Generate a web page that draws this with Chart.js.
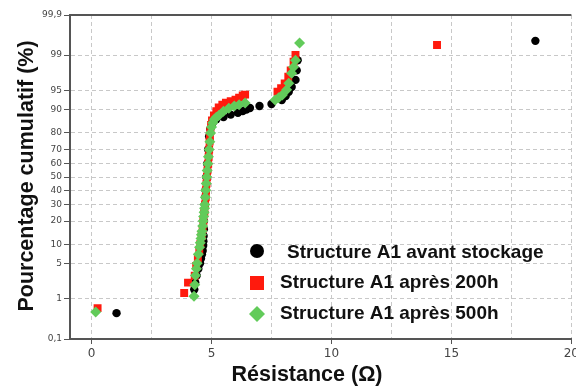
<!DOCTYPE html>
<html>
<head>
<meta charset="utf-8">
<script src="https://cdn.jsdelivr.net/npm/chart.js@4.4.1/dist/chart.umd.min.js"></script>
<style>
  html, body { margin: 0; padding: 0; background: #fff; overflow: hidden; }
  #wrap { width: 576px; height: 388px; overflow: hidden; }
  #box { width: 582px; height: 388px; }
</style>
</head>
<body>
<div id="wrap"><div id="box"><canvas id="chart"></canvas></div></div>
<script>
// Series labels
const seriesLabels = ['Structure A1 avant stockage', 'Structure A1 après 200h', 'Structure A1 après 500h'];

// Structure A1 avant stockage : résistance (ohm) / pourcentage cumulatif (%)
const avantR = [1.04, 4.28, 4.32, 4.38, 4.45, 4.52, 4.56, 4.6, 4.63, 4.65, 4.66, 4.67, 4.68, 4.68, 4.7, 4.72, 4.74, 4.75, 4.78, 4.82,
  4.86, 4.9, 4.95, 5.05, 5.2, 5.5, 5.8, 6.1, 6.3, 6.45, 6.6, 7.0, 7.5, 7.93, 8.09, 8.22, 8.34, 8.5, 8.55, 8.59, 18.5];
const avantP = [0.47, 1.6, 2.2, 3, 4, 5, 6, 7, 8, 9.5, 11, 13, 16, 20, 25, 30, 35, 40, 50, 60,
  70, 78, 82, 85, 86.5, 87.4, 88.3, 89, 89.6, 90.1, 90.6, 91.2, 91.8, 92.9, 93.9, 94.8, 95.7, 96.8, 97.9, 98.7, 99.53];

// Structure A1 après 200h
const h200R = [0.25, 3.86, 4.02, 4.3, 4.36, 4.43, 4.49, 4.53, 4.59, 4.63, 4.66, 4.7, 4.73, 4.76, 4.77, 4.79, 4.81, 4.83, 4.86, 4.88,
  4.9, 4.92, 4.93, 4.95, 4.98, 5.02, 5.1, 5.2, 5.3, 5.45, 5.6, 5.8, 6.0, 6.15, 6.3, 6.4,
  7.75, 7.9, 8.05, 8.2, 8.3, 8.42, 8.5, 14.4];
const h200P = [0.62, 1.35, 2.2, 3, 4.5, 6, 8, 10, 13, 16, 20, 25, 30, 35, 40, 45, 50, 55, 60, 65,
  70, 75, 78, 81, 84, 86, 88, 89.5, 90.8, 91.6, 92.2, 92.6, 93, 93.5, 94, 94.2,
  94.8, 95.5, 96.3, 97.2, 97.9, 98.6, 99.0, 99.41];

// Structure A1 après 500h
const h500R = [0.17, 4.27, 4.3, 4.33, 4.37, 4.4, 4.45, 4.5, 4.53, 4.56, 4.58, 4.6, 4.63, 4.65, 4.67, 4.69, 4.71, 4.72, 4.74, 4.76,
  4.78, 4.8, 4.82, 4.85, 4.87, 4.9, 4.93, 4.96, 5.0, 5.05, 5.12, 5.2, 5.3, 5.5, 5.72, 5.95, 6.15, 6.4,
  7.65, 7.8, 7.95, 8.13, 8.22, 8.34, 8.42, 8.5, 8.67];
const h500P = [0.5, 1.15, 2, 3, 4, 5, 7, 9, 10.5, 12, 13.5, 15, 17.5, 20, 22.5, 25, 27.5, 30, 35, 40,
  45, 50, 55, 60, 65, 70, 75, 80, 83, 85, 86.5, 87.3, 88, 89.5, 90.5, 91.2, 91.6, 92.1,
  92.9, 93.5, 94.1, 95.2, 96.3, 97.6, 98.2, 98.7, 99.47];

// Axis ticks
const yTickPct = [0.1, 1, 5, 10, 20, 30, 40, 50, 60, 70, 80, 90, 95, 99, 99.9];
const yTickLabels = ['0,1', '1', '5', '10', '20', '30', '40', '50', '60', '70', '80', '90', '95', '99', '99,9'];
const xGridVals = [0, 2.5, 5, 7.5, 10, 12.5, 15, 17.5, 20];

const colors = ['#000000', '#ff1a0d', '#62cb5a'];

// Inverse normal CDF (Acklam), p in percent -> normal quantile
function probit(pct) {
  const p = pct / 100;
  const a = [-3.969683028665376e+01, 2.209460984245205e+02, -2.759285104469687e+02, 1.383577518672690e+02, -3.066479806614716e+01, 2.506628277459239e+00];
  const b = [-5.447609879822406e+01, 1.615858368580409e+02, -1.556989798598866e+02, 6.680131188771972e+01, -1.328068155288572e+01];
  const c = [-7.784894002430293e-03, -3.223964580411365e-01, -2.400758277161838e+00, -2.549732539343734e+00, 4.374664141464968e+00, 2.938163982698783e+00];
  const d = [7.784695709041462e-03, 3.224671290700398e-01, 2.445134137142996e+00, 3.754408661907416e+00];
  const pl = 0.02425;
  let q, r;
  if (p < pl) {
    q = Math.sqrt(-2 * Math.log(p));
    return (((((c[0] * q + c[1]) * q + c[2]) * q + c[3]) * q + c[4]) * q + c[5]) / ((((d[0] * q + d[1]) * q + d[2]) * q + d[3]) * q + 1);
  }
  if (p > 1 - pl) {
    q = Math.sqrt(-2 * Math.log(1 - p));
    return -(((((c[0] * q + c[1]) * q + c[2]) * q + c[3]) * q + c[4]) * q + c[5]) / ((((d[0] * q + d[1]) * q + d[2]) * q + d[3]) * q + 1);
  }
  q = p - 0.5;
  r = q * q;
  return (((((a[0] * r + a[1]) * r + a[2]) * r + a[3]) * r + a[4]) * r + a[5]) * q / (((((b[0] * r + b[1]) * r + b[2]) * r + b[3]) * r + b[4]) * r + 1);
}

function toPoints(xs, ps) {
  return xs.map((x, i) => ({ x: x, y: probit(ps[i]) }));
}

// Titles, top border and legend drawn inside the plot
const decorPlugin = {
  id: 'decor',
  afterDraw(chart) {
    const ctx = chart.ctx;
    const area = chart.chartArea;
    ctx.save();
    // top frame line
    ctx.strokeStyle = '#555';
    ctx.lineWidth = 2;
    ctx.beginPath();
    ctx.moveTo(area.left, area.top);
    ctx.lineTo(area.right, area.top);
    ctx.stroke();

    // axis titles
    ctx.fillStyle = '#111';
    ctx.font = 'bold 21.5px "Liberation Sans", Arial, sans-serif';
    ctx.textAlign = 'center';
    ctx.textBaseline = 'middle';
    ctx.fillText('Résistance (Ω)', 307, 375);
    ctx.save();
    ctx.translate(27, 176);
    ctx.rotate(-Math.PI / 2);
    ctx.fillText('Pourcentage cumulatif (%)', 0, 0);
    ctx.restore();

    // legend
    const rows = [253, 283, 314];
    const textX = [287, 280, 280];
    ctx.font = 'bold 19px "Liberation Sans", Arial, sans-serif';
    ctx.textAlign = 'left';
    chart.data.datasets.forEach((ds, i) => {
      const y = rows[i];
      const mx = 257;
      ctx.fillStyle = ds.backgroundColor;
      ctx.beginPath();
      if (i === 0) {
        ctx.arc(mx, y - 2, 7, 0, Math.PI * 2);
      } else if (i === 1) {
        ctx.rect(mx - 7, y - 7, 14, 14);
      } else {
        ctx.moveTo(mx - 8, y);
        ctx.lineTo(mx, y - 8);
        ctx.lineTo(mx + 8, y);
        ctx.lineTo(mx, y + 8);
        ctx.closePath();
      }
      ctx.fill();
      ctx.fillStyle = '#111';
      ctx.fillText(ds.label, textX[i], y);
    });
    ctx.restore();
  }
};

new Chart(document.getElementById('chart'), {
  type: 'scatter',
  data: {
    datasets: [
      {
        label: seriesLabels[0],
        data: toPoints(avantR, avantP),
        backgroundColor: colors[0],
        borderWidth: 0,
        pointStyle: 'circle',
        pointRadius: 4.2,
        order: 3
      },
      {
        label: seriesLabels[1],
        data: toPoints(h200R, h200P),
        backgroundColor: colors[1],
        borderWidth: 0,
        pointStyle: 'rect',
        pointRadius: 5.6,
        order: 2
      },
      {
        label: seriesLabels[2],
        data: toPoints(h500R, h500P),
        backgroundColor: colors[2],
        borderWidth: 0,
        pointStyle: 'rectRot',
        pointRadius: 5.5,
        order: 1
      }
    ]
  },
  options: {
    responsive: true,
    maintainAspectRatio: false,
    animation: false,
    layout: { padding: { top: 15, left: 0, right: 0, bottom: 0 } },
    scales: {
      x: {
        type: 'linear',
        min: -0.9,
        max: 20,
        afterBuildTicks: function (scale) {
          scale.ticks = xGridVals.map(v => ({ value: v }));
        },
        afterFit: function (scale) {
          scale.height = 49;
        },
        ticks: {
          color: '#444',
          font: { family: '"DejaVu Sans", Verdana, sans-serif', size: 12 },
          padding: 3,
          maxRotation: 0,
          autoSkip: false,
          callback: function (v) {
            return v % 5 === 0 ? String(v) : '';
          }
        },
        grid: {
          color: '#c8c8c8',
          lineWidth: 1,
          tickLength: 5,
          tickBorderDash: [],
          tickColor: function (c) {
            return c.tick && c.tick.value % 5 === 0 ? '#555' : 'rgba(0,0,0,0)';
          }
        },
        border: { color: '#555', width: 2, dash: [4, 3] }
      },
      y: {
        type: 'linear',
        min: probit(0.1),
        max: probit(99.9),
        afterBuildTicks: function (scale) {
          scale.ticks = yTickPct.map(p => ({ value: probit(p) }));
        },
        afterFit: function (scale) {
          scale.width = 70;
        },
        ticks: {
          color: '#444',
          font: { family: '"DejaVu Sans", Verdana, sans-serif', size: 9 },
          padding: 2,
          autoSkip: false,
          callback: function (v, i) {
            return yTickLabels[i];
          }
        },
        grid: {
          color: '#c8c8c8',
          lineWidth: 1,
          tickLength: 6,
          tickBorderDash: [],
          tickColor: '#555'
        },
        border: { color: '#555', width: 2, dash: [4, 3] }
      }
    },
    plugins: {
      legend: { display: false },
      tooltip: { enabled: false }
    }
  },
  plugins: [decorPlugin]
});
</script>
</body>
</html>
